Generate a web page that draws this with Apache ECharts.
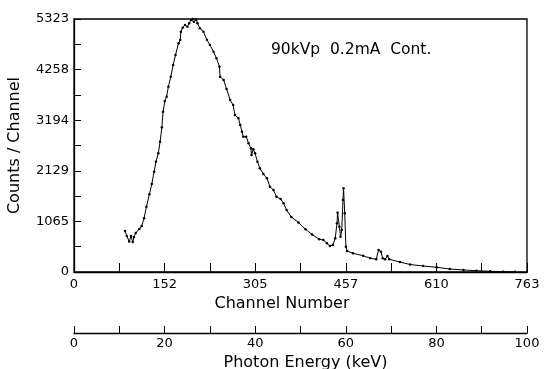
<!DOCTYPE html>
<html>
<head>
<meta charset="utf-8">
<script src="https://cdn.jsdelivr.net/npm/echarts@6/dist/echarts.min.js"></script>
<style>html,body{margin:0;padding:0;background:#fff;}#c{width:544px;height:369px;}</style>
</head>
<body>
<div id="c"></div>
<script>
const channels = [86,89,93,96,99,101,104,110,114,118,122,127,131,135,138,142,145,148,150,153,156,159,163,167,171,176,179,180,183,187,191,194,197,200,202,206,208,212,218,224,229,235,240,245,246,252,257,263,268,271,277,280,283,285,290,294,298,299,302,305,309,313,319,325,330,336,341,348,353,358,366,378,390,401,413,420,426,431,436,440,443,444,447,449,451,453,454,456,458,460,470,487,499,509,513,517,520,524,528,531,549,566,588,611,633,656,678,701,723,743];
const counts = [863,757,640,757,630,736,821,905,968,1130,1374,1635,1851,2110,2321,2497,2741,3044,3373,3598,3688,3899,4109,4355,4566,4812,4881,5056,5140,5197,5161,5233,5302,5323,5266,5312,5233,5127,5056,4881,4776,4635,4496,4319,4109,4040,3850,3619,3514,3303,3234,3093,2952,2847,2847,2708,2603,2462,2582,2497,2321,2182,2062,1971,1795,1725,1584,1536,1445,1304,1157,1044,898,789,690,673,604,547,568,709,1025,1248,953,743,884,1515,1761,1235,532,442,393,343,288,267,463,427,288,267,337,267,210,158,126,99,63,42,27,15,6,4];
const channelTickLabels = ['0','152','305','457','610','763'];
const countTickLabels = ['0','1065','2129','3194','4258','5323'];
const energyTickLabels = ['0','20','40','60','80','100'];
const annotation = '90kVp  0.2mA  Cont.';

const FONT = 'DejaVu Sans';
const chart = echarts.init(document.getElementById('c'), null, {renderer: 'canvas'});
const data = channels.map((c, i) => [c, counts[i]]);
const lbl = (arr, step) => v => {
  const k = Math.round(v / step);
  return k % 2 === 0 ? (arr[k / 2] ?? '') : '';
};
chart.setOption({
  animation: false,
  backgroundColor: '#fff',
  title: {
    text: annotation, left: 266, top: 37,
    textStyle: {fontFamily: FONT, fontSize: 15.5, fontWeight: 'normal', color: '#000'}
  },
  grid: {left: 74, right: 17, top: 19, bottom: 97, outerBoundsMode: 'none', containLabel: false,
         show: true, borderColor: '#000', borderWidth: 1.3, backgroundColor: 'transparent'},
  xAxis: [{
    type: 'value', min: 0, max: 763, interval: 76.3, position: 'bottom',
    name: 'Channel Number', nameLocation: 'middle', nameGap: 23,
    nameTextStyle: {fontFamily: FONT, fontSize: 16, color: '#000', padding: [0, 37, 0, 0]},
    axisLine: {show: true, lineStyle: {color: '#000', width: 1.3}},
    axisTick: {show: true, inside: true, length: 9, lineStyle: {color: '#000', width: 1}},
    axisLabel: {fontFamily: FONT, fontSize: 13, color: '#000', margin: 6, formatter: lbl(channelTickLabels, 76.3)},
    splitLine: {show: false}
  }, {
    type: 'value', min: 0, max: 100, interval: 10, position: 'bottom', offset: 61,
    name: 'Photon Energy (keV)', nameLocation: 'middle', nameGap: 16,
    nameTextStyle: {fontFamily: FONT, fontSize: 16, color: '#000', padding: [0, 0, 0, 10]},
    axisLine: {show: true, lineStyle: {color: '#000', width: 1.3}},
    axisTick: {show: true, inside: true, length: 7, lineStyle: {color: '#000', width: 1}},
    axisLabel: {fontFamily: FONT, fontSize: 13, color: '#000', margin: 4, formatter: lbl(energyTickLabels, 10)},
    splitLine: {show: false}
  }],
  yAxis: {
    type: 'value', min: 0, max: 5323, interval: 532.3,
    name: 'Counts / Channel', nameLocation: 'middle', nameGap: 51, nameRotate: 90,
    nameTextStyle: {fontFamily: FONT, fontSize: 16, color: '#000'},
    axisLine: {show: true, lineStyle: {color: '#000', width: 1.3}},
    axisTick: {show: true, inside: true, length: 7, lineStyle: {color: '#000', width: 1}},
    axisLabel: {fontFamily: FONT, fontSize: 13, color: '#000', margin: 5, formatter: lbl(countTickLabels, 532.3)},
    splitLine: {show: false}
  },
  series: [{
    type: 'line', xAxisIndex: 0, data: data,
    symbol: 'circle', symbolSize: 2.5, showSymbol: true,
    itemStyle: {color: '#000'},
    lineStyle: {color: '#000', width: 1},
    clip: false
  }]
});
</script>
</body>
</html>
